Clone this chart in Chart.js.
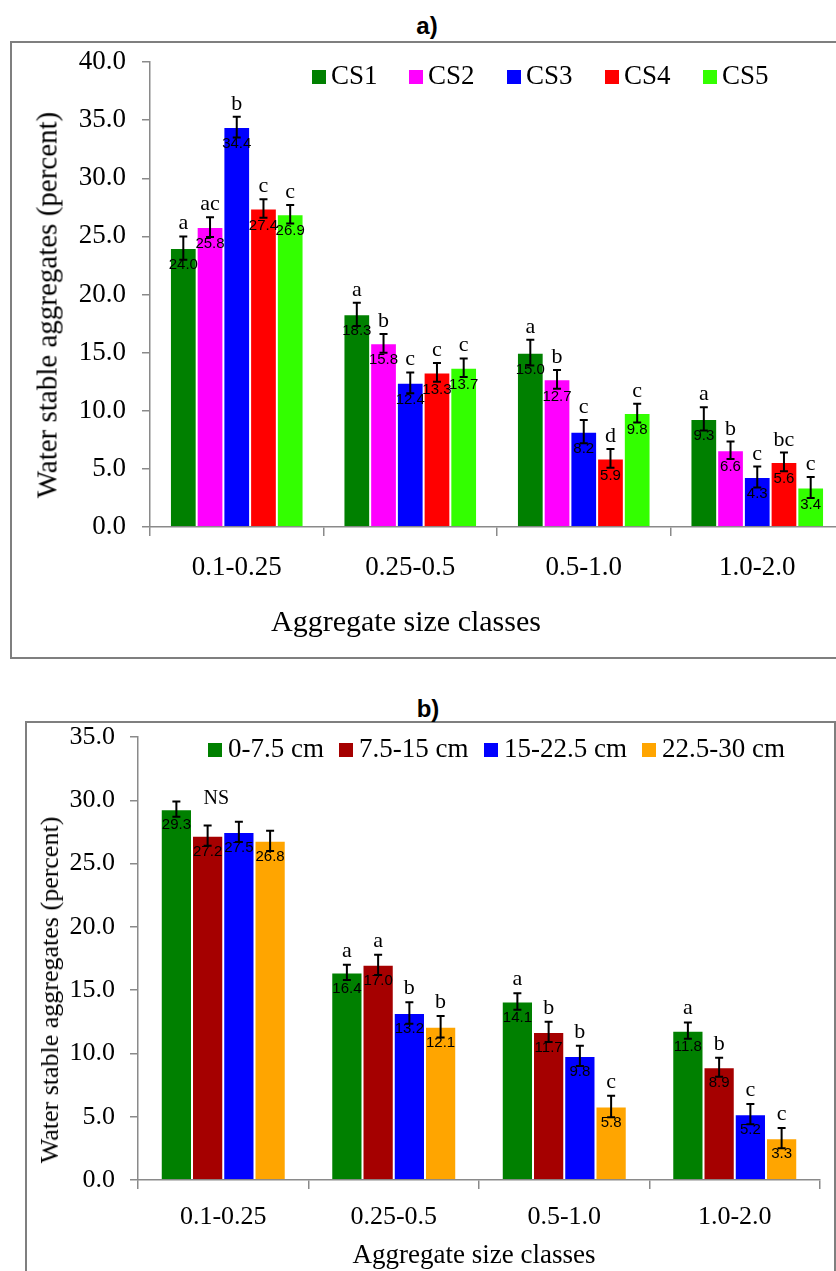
<!DOCTYPE html>
<html>
<head>
<meta charset="utf-8">
<script src="https://cdn.jsdelivr.net/npm/chart.js@4.4.1/dist/chart.umd.min.js"></script>
<style>
  html, body { margin:0; padding:0; background:#fff; }
  body { width:836px; height:1271px; overflow:hidden; position:relative; font-family:"Liberation Serif", serif; }
  .box { position:absolute; border:2px solid #7f7f7f; box-sizing:border-box; }
  .ptitle { position:absolute; font-family:"Liberation Sans", Arial, sans-serif; font-weight:bold; font-size:24px; transform:translate(-50%,-100%); line-height:1; }
  .t { position:absolute; white-space:nowrap; line-height:1; color:#000; }
  .xt { transform:translate(-50%,-50%); }
  .yt { transform:translate(-50%,-50%) rotate(-90deg); }
  canvas { position:absolute; left:0; }
</style>
</head>
<body>
<div class="box" style="left:10px; top:41px; width:850px; height:618px;"></div>
<div class="box" style="left:25px; top:721px; width:811px; height:600px;"></div>

<div class="ptitle" style="left:427px; top:38px;">a)</div>
<div class="ptitle" style="left:428px; top:721px;">b)</div>

<canvas id="ca" width="870" height="660" style="top:0px; width:870px; height:660px;"></canvas>
<canvas id="cb" width="836" height="581" style="top:690px; width:836px; height:581px;"></canvas>

<div class="t yt" style="left:47px; top:305px; font-size:29px;">Water stable aggregates (percent)</div>
<div class="t xt" style="left:406px; top:621px; font-size:30px;">Aggregate size classes</div>
<div class="t yt" style="left:50px; top:990px; font-size:26px;">Water stable aggregates (percent)</div>
<div class="t xt" style="left:474px; top:1254px; font-size:27px;">Aggregate size classes</div>

<script>
// ---------- Data ----------
const categories = ['0.1-0.25', '0.25-0.5', '0.5-1.0', '1.0-2.0'];

// Panel a) cropping systems
const seriesA = ['CS1', 'CS2', 'CS3', 'CS4', 'CS5'];
const colorsA = ['#008000', '#FF00FF', '#0000FF', '#FF0000', '#33FF00'];
const cs1 = [24.0, 18.3, 15.0, 9.3];
const cs2 = [25.8, 15.8, 12.7, 6.6];
const cs3 = [34.4, 12.4, 8.2, 4.3];
const cs4 = [27.4, 13.3, 5.9, 5.6];
const cs5 = [26.9, 13.7, 9.8, 3.4];
const cs1Err = [1.0, 1.0, 1.1, 1.0];
const cs2Err = [0.85, 0.8, 0.8, 0.75];
const cs3Err = [0.9, 0.9, 1.0, 0.9];
const cs4Err = [0.8, 0.8, 0.8, 0.8];
const cs5Err = [0.8, 0.8, 0.8, 0.9];
const cs1Let = ['a', 'a', 'a', 'a'];
const cs2Let = ['ac', 'b', 'b', 'b'];
const cs3Let = ['b', 'c', 'c', 'c'];
const cs4Let = ['c', 'c', 'd', 'bc'];
const cs5Let = ['c', 'c', 'c', 'c'];
const ticksA = [0, 5, 10, 15, 20, 25, 30, 35, 40];

// Panel b) soil depths
const seriesB = ['0-7.5 cm', '7.5-15 cm', '15-22.5 cm', '22.5-30 cm'];
const colorsB = ['#008000', '#A50000', '#0000FF', '#FFA500'];
const d1 = [29.3, 16.4, 14.1, 11.8];
const d2 = [27.2, 17.0, 11.7, 8.9];
const d3 = [27.5, 13.2, 9.8, 5.2];
const d4 = [26.8, 12.1, 5.8, 3.3];
const d1Err = [0.6, 0.6, 0.65, 0.65];
const d2Err = [0.8, 0.8, 0.8, 0.75];
const d3Err = [0.8, 0.85, 0.8, 0.8];
const d4Err = [0.8, 0.85, 0.85, 0.8];
const d1Let = ['', 'a', 'a', 'a'];
const d2Let = ['', 'a', 'b', 'b'];
const d3Let = ['', 'b', 'b', 'c'];
const d4Let = ['', 'b', 'c', 'c'];
const groupNoteB = { group: 0, text: 'NS' };
const ticksB = [0, 5, 10, 15, 20, 25, 30, 35];

// ---------- Plugin: error bars, value labels, letters, legend ----------
const annotate = {
  id: 'annotate',
  afterDatasetsDraw(chart, args, opts) {
    const ctx = chart.ctx;
    const ys = chart.scales.y;
    ctx.save();
    chart.data.datasets.forEach((ds, i) => {
      const meta = chart.getDatasetMeta(i);
      meta.data.forEach((bar, j) => {
        const v = ds.data[j];
        const e = opts.errors[i][j];
        const x = bar.x;
        const top = ys.getPixelForValue(v);
        ctx.fillStyle = '#000';
        ctx.textAlign = 'center';
        ctx.textBaseline = 'middle';
        ctx.font = '15px "Liberation Sans", sans-serif';
        ctx.fillText(v.toFixed(1), x, top + opts.labelOffset);
        const hi = ys.getPixelForValue(v + e);
        const lo = ys.getPixelForValue(v - e);
        ctx.strokeStyle = '#000';
        ctx.lineWidth = 2;
        ctx.beginPath();
        ctx.moveTo(x, hi); ctx.lineTo(x, lo);
        ctx.moveTo(x - 4, hi); ctx.lineTo(x + 4, hi);
        ctx.moveTo(x - 4, lo); ctx.lineTo(x + 4, lo);
        ctx.stroke();
        const L = opts.letters[i][j];
        if (L) {
          ctx.font = '22px "Liberation Serif", serif';
          ctx.textBaseline = 'alphabetic';
          ctx.fillText(L, x, hi - opts.letterGap);
        }
      });
    });
    if (opts.note) {
      const g = opts.note.group;
      let maxTop = -Infinity;
      chart.data.datasets.forEach((ds, i) => { maxTop = Math.max(maxTop, ds.data[g] + opts.errors[i][g]); });
      const xs = chart.scales.x;
      ctx.font = '20px "Liberation Serif", serif';
      ctx.textAlign = 'center';
      ctx.textBaseline = 'alphabetic';
      ctx.fillText(opts.note.text, xs.getPixelForValue(g) - 7, ys.getPixelForValue(maxTop) + 2);
    }
    // legend
    const lg = opts.legend;
    ctx.textAlign = 'left';
    ctx.textBaseline = 'middle';
    ctx.font = lg.font;
    chart.data.datasets.forEach((ds, i) => {
      const lx = lg.xs[i];
      ctx.fillStyle = ds.backgroundColor;
      ctx.fillRect(lx, lg.y - 7, 14, 14);
      ctx.fillStyle = '#000';
      ctx.fillText(ds.label, lx + lg.gap, lg.y);
    });
    ctx.restore();
  }
};

function makeDatasets(names, colors, values) {
  return names.map((n, i) => ({
    label: n,
    data: values[i],
    backgroundColor: colors[i],
    borderColor: 'rgba(255,255,255,0.35)',
    borderWidth: 1,
    barPercentage: 1.0
  }));
}

function axisOpts(tickFont, xPad, yPad, xHeight, yWidth, ymax, tickVals) {
  return {
    x: {
      type: 'category',
      offset: true,
      grid: { display: true, drawOnChartArea: false, drawTicks: true, tickLength: 9, color: '#8a8a8a', lineWidth: 1.5, offset: true },
      border: { display: true, color: '#8a8a8a', width: 1.5 },
      ticks: { font: { family: 'Liberation Serif', size: tickFont }, color: '#000', padding: xPad, maxRotation: 0, autoSkip: false },
      afterFit(s) { s.height = xHeight; }
    },
    y: {
      min: 0, max: ymax,
      grid: { display: true, drawOnChartArea: false, drawTicks: true, tickLength: 8, color: '#8a8a8a', lineWidth: 1.5 },
      border: { display: true, color: '#8a8a8a', width: 1.5 },
      afterBuildTicks(s) { s.ticks = tickVals.map(v => ({ value: v })); },
      ticks: { font: { family: 'Liberation Serif', size: tickFont }, color: '#000', padding: yPad, callback: v => Number(v).toFixed(1) },
      afterFit(s) { s.width = yWidth; }
    }
  };
}

Chart.defaults.font.family = 'Liberation Serif';

new Chart(document.getElementById('ca'), {
  type: 'bar',
  data: { labels: categories, datasets: makeDatasets(seriesA, colorsA, [cs1, cs2, cs3, cs4, cs5]).map(d => ({ ...d, categoryPercentage: 0.77 })) },
  options: {
    responsive: false, animation: false,
    layout: { padding: { left: 0, top: 62, right: 26, bottom: 0 } },
    plugins: {
      legend: { display: false }, tooltip: { enabled: false },
      annotate: {
        errors: [cs1Err, cs2Err, cs3Err, cs4Err, cs5Err],
        letters: [cs1Let, cs2Let, cs3Let, cs4Let, cs5Let],
        labelOffset: 17, letterGap: 7,
        legend: { xs: [312, 409, 507, 605, 703], y: 77, gap: 19, font: '27px "Liberation Serif", serif' }
      }
    },
    scales: axisOpts(27, 16, 16, 133, 150, 40, ticksA)
  },
  plugins: [annotate]
});

new Chart(document.getElementById('cb'), {
  type: 'bar',
  data: { labels: categories, datasets: makeDatasets(seriesB, colorsB, [d1, d2, d3, d4]).map(d => ({ ...d, categoryPercentage: 0.733 })) },
  options: {
    responsive: false, animation: false,
    layout: { padding: { left: 0, top: 47, right: 16, bottom: 0 } },
    plugins: {
      legend: { display: false }, tooltip: { enabled: false },
      annotate: {
        errors: [d1Err, d2Err, d3Err, d4Err],
        letters: [d1Let, d2Let, d3Let, d4Let],
        note: groupNoteB,
        labelOffset: 16, letterGap: 8,
        legend: { xs: [208, 339, 484, 642], y: 60, gap: 20, font: '27px "Liberation Serif", serif' }
      }
    },
    scales: axisOpts(26, 13, 15, 91, 138, 35, ticksB)
  },
  plugins: [annotate]
});
</script>
</body>
</html>
